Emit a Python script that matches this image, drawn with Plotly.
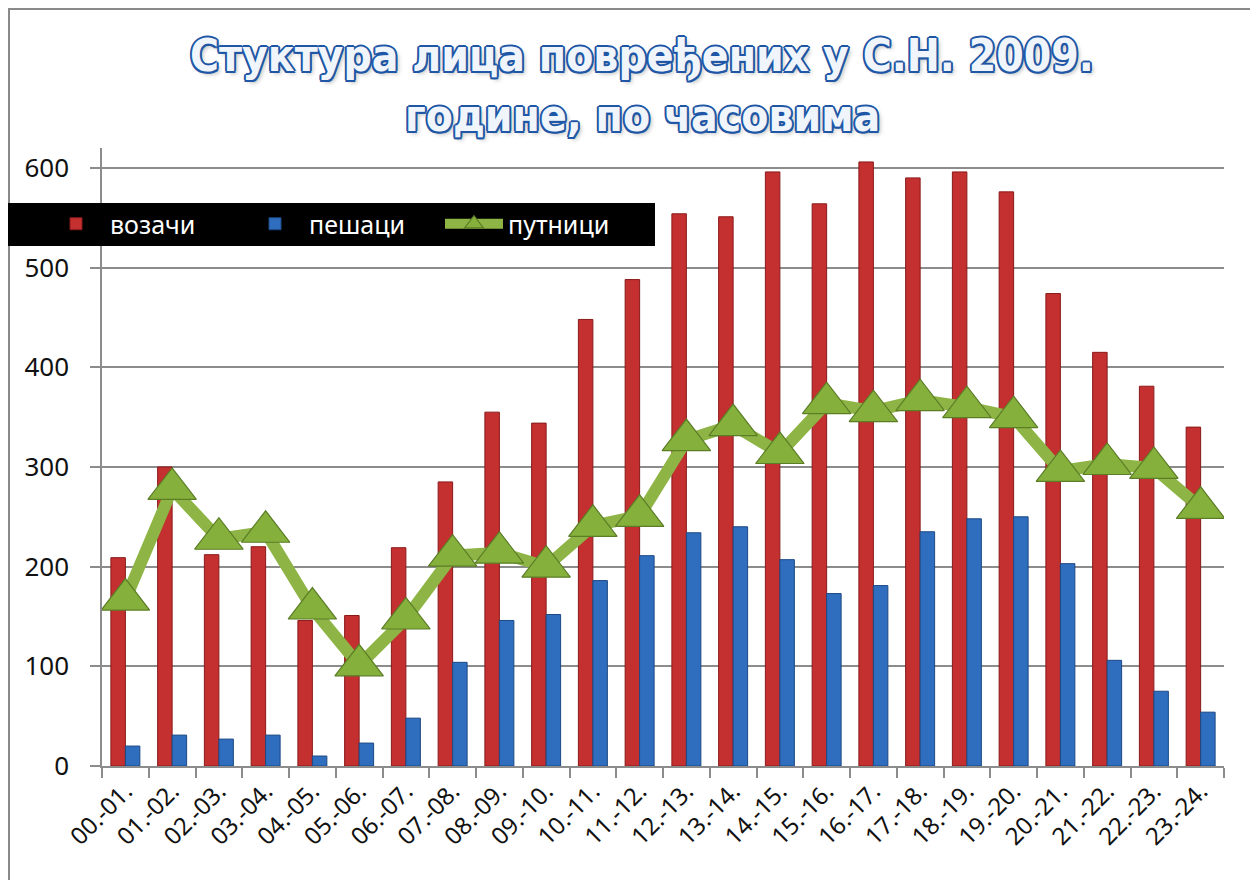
import plotly.graph_objects as go

categories = ["00.-01.", "01.-02.", "02.-03.", "03.-04.", "04.-05.", "05.-06.",
              "06.-07.", "07.-08.", "08.-09.", "09.-10.", "10.-11.", "11.-12.",
              "12.-13.", "13.-14.", "14.-15.", "15.-16.", "16.-17.", "17.-18.",
              "18.-19.", "19.-20.", "20.-21.", "21.-22.", "22.-23.", "23.-24."]

vozaci = [209, 300, 212, 220, 146, 151, 219, 285, 355, 344, 448, 488,
          554, 551, 596, 564, 606, 590, 596, 576, 474, 415, 381, 340]

pesaci = [20, 31, 27, 31, 10, 23, 48, 104, 146, 152, 186, 211,
          234, 240, 207, 173, 181, 235, 248, 250, 203, 106, 75, 54]

putnici = [167, 278, 228, 235, 158, 101, 148, 211, 214, 200, 241, 251,
           327, 342, 314, 364, 356, 367, 360, 350, 296, 303, 299, 259]

y_ticks = [0, 100, 200, 300, 400, 500, 600]

title_line1 = "Стуктура лица повређених у С.Н. 2009."
title_line2 = "године, по часовима"

OFF = 8  # page body margin
W, H = 1250, 872
L, R, T, B = 94, 34, 140, 114
PW, PH = W - L - R, H - T - B


def px_x(p):
    return (p - OFF - L) / PW


def px_y(p):
    return (H - B - (p - OFF)) / PH


fig = go.Figure()
fig.add_trace(go.Bar(
    x=categories, y=vozaci, name="возачи",
    marker=dict(color="#C3302F", line=dict(color="#8A1A1A", width=1)),
))
fig.add_trace(go.Bar(
    x=categories, y=pesaci, name="пешаци",
    marker=dict(color="#2F6EBE", line=dict(color="#1C4884", width=1)),
))
fig.add_trace(go.Scatter(
    x=categories, y=putnici, name="путници", mode="lines+markers",
    line=dict(color="#8DB445", width=12),
    marker=dict(symbol="triangle-up", size=42, color="#86B03C",
                line=dict(color="#5B7D26", width=1.2)),
))

outline = "#1F57A6"
shadow = ", ".join([
    f"2px 0 0 {outline}", f"-2px 0 0 {outline}", f"0 2px 0 {outline}", f"0 -2px 0 {outline}",
    f"1.5px 1.5px 0 {outline}", f"-1.5px -1.5px 0 {outline}",
    f"1.5px -1.5px 0 {outline}", f"-1.5px 1.5px 0 {outline}",
    "3px 3px 4px rgba(0,0,0,0.25)"])
title_font = dict(family="Liberation Sans Narrow, DejaVu Sans Condensed, sans-serif",
                  size=44, color="#F0F5FC", weight="bold", shadow=shadow)

fig.update_layout(
    width=W, height=H,
    margin=dict(l=L, r=R, t=T, b=B, pad=0),
    paper_bgcolor="white", plot_bgcolor="white",
    barmode="group", bargap=0.38, bargroupgap=0.0,
    font=dict(family="Noto Sans, DejaVu Sans, sans-serif", color="#1a1a1a"),
    showlegend=True,
    legend=dict(orientation="h", x=px_x(42), xanchor="left",
                y=px_y(224), yanchor="middle",
                bgcolor="rgba(0,0,0,0)", font=dict(color="white", size=25),
                itemwidth=58, entrywidth=126, traceorder="normal"),
    annotations=[
        dict(text=title_line1, xref="paper", yref="paper", x=px_x(642), y=px_y(55),
             xanchor="center", yanchor="middle", showarrow=False, font=title_font),
        dict(text=title_line2, xref="paper", yref="paper", x=px_x(642), y=px_y(115),
             xanchor="center", yanchor="middle", showarrow=False, font=title_font),
    ],
    shapes=[
        dict(type="rect", xref="paper", yref="paper",
             x0=px_x(5), x1=px_x(655), y0=px_y(246), y1=px_y(203),
             fillcolor="black", line=dict(width=0), layer="above"),
        dict(type="rect", xref="paper", yref="paper",
             x0=px_x(9), x1=px_x(1255), y0=px_y(900), y1=px_y(9),
             fillcolor="rgba(0,0,0,0)", line=dict(color="#8a8a8a", width=2), layer="below"),
    ],
)

fig.update_xaxes(
    type="category", range=[-0.5, len(categories) - 0.5], autorange=False,
    showgrid=False, showline=True, linecolor="#8c8c8c", linewidth=1.5,
    ticks="outside", tickson="boundaries", ticklen=10, tickcolor="#8c8c8c", tickwidth=1.5,
    tickangle=-45, tickfont=dict(size=24, color="#111111"),
)
fig.update_yaxes(
    range=[0, 620], autorange=False, tickvals=y_ticks, showgrid=True,
    gridcolor="#8c8c8c", gridwidth=1.5,
    showline=True, linecolor="#8c8c8c", linewidth=1.5, zeroline=False,
    ticks="outside", ticklen=10, tickcolor="#8c8c8c", tickwidth=1.5,
    ticklabelstandoff=16,
    tickfont=dict(size=26, color="#111111"),
)

fig.write_html("out.html")
